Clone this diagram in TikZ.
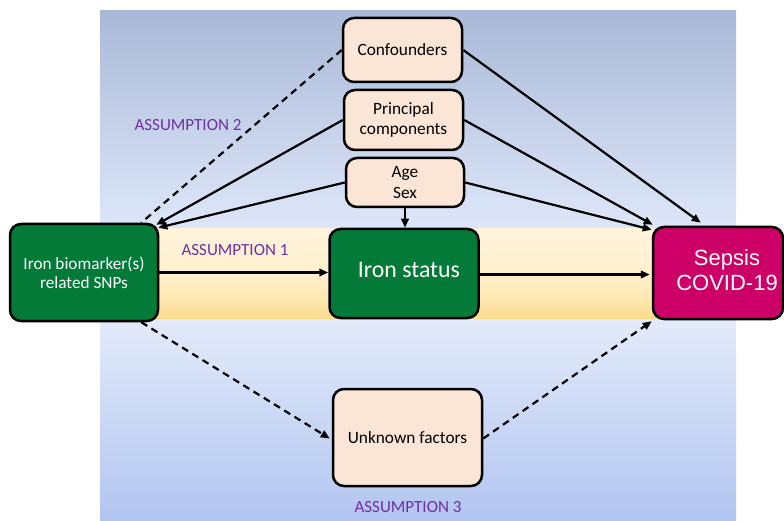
\documentclass[tikz,border=0pt]{standalone}
\usepackage{fontspec}
\setmainfont{Carlito}
\newfontfamily\arialfont{Liberation Sans}
\usetikzlibrary{arrows.meta,calc}

\definecolor{panelTop}{HTML}{A8B8D6}
\definecolor{panelUp}{HTML}{C3CFE8}
\definecolor{panelLight}{HTML}{DDE6F8}
\definecolor{panelMid}{HTML}{E4EBFA}
\definecolor{panelLow}{HTML}{CAD8F5}
\definecolor{panelBot}{HTML}{B2C5F0}
\definecolor{bandTop}{HTML}{FFF3DC}
\definecolor{bandMid}{HTML}{FFF0CD}
\definecolor{bandLow}{HTML}{FDE7AF}
\definecolor{bandBot}{HTML}{FADB8A}
\definecolor{peach}{HTML}{FBE5D6}
\definecolor{ironGreen}{HTML}{037A38}
\definecolor{sepsisPink}{HTML}{CC0066}
\definecolor{assumPurple}{HTML}{7030A0}

% vertical shadings; TikZ fits the 25bp--75bp part to the filled area
\pgfdeclareverticalshading{panelshade}{100bp}{%
  color(0bp)=(panelBot); color(25bp)=(panelBot); color(35bp)=(panelLow);
  color(45bp)=(panelMid); color(54bp)=(panelLight); color(65bp)=(panelUp);
  color(75bp)=(panelTop); color(100bp)=(panelTop)}
\pgfdeclareverticalshading{bandshade}{100bp}{%
  color(0bp)=(bandBot); color(25bp)=(bandBot); color(35bp)=(bandLow);
  color(50bp)=(bandMid); color(75bp)=(bandTop); color(100bp)=(bandTop)}

\tikzset{
  box/.style={draw=black, line width=2.5pt, rounded corners=11pt, inner sep=0pt, align=center},
  factor/.style={box, fill=peach, text=black, font=\fontsize{17.3}{20.5}\selectfont},
  greenbox/.style={box, fill=ironGreen, text=white},
  assum/.style={text=assumPurple, font=\fontsize{17}{20}\selectfont, inner sep=0pt},
  link/.style={line width=2.2pt, -{Triangle[length=9pt,width=7.5pt]}},
  dlink/.style={link, dash pattern=on 7pt off 5pt},
}

\begin{document}
\begin{tikzpicture}[x=1pt,y=-1pt]
\useasboundingbox (0,0) rectangle (784,521);

% background panel and the yellow band
\shade[shading=panelshade] (100,11) rectangle (736,521);
\shade[shading=bandshade] (100,229) rectangle (736,318);

% nodes
\node[greenbox, minimum width=148pt, minimum height=97pt,
      font=\fontsize{17.2}{19}\selectfont] (snp) at (84,272.5)
  {Iron biomarker(s)\\related SNPs};
\node[greenbox, minimum width=149pt, minimum height=89pt] (iron) at (404,273.5) {};
\node[text=white, font=\fontsize{23.8}{26}\selectfont, inner sep=0pt] (irontxt)
  at (409,270) {Iron status};
\node[box, fill=sepsisPink, minimum width=130pt, minimum height=92pt] (sep) at (718,273) {};
\node[text=white, font=\arialfont\fontsize{22}{25}\selectfont, align=center, inner sep=0pt]
  (septxt) at (727,270) {Sepsis\\COVID-19};

\node[factor, minimum width=119pt, minimum height=64pt] (conf) at (402.5,50) {Confounders};
\node[factor, minimum width=119pt, minimum height=60pt] (pc) at (403.5,120)
  {Principal\\components};
\node[factor, minimum width=118pt, minimum height=49pt] (age) at (405,182.5)
  {Age\\Sex};
\node[factor, minimum width=149pt, minimum height=97pt] (unk) at (407.5,437.5)
  {Unknown factors};

% assumption labels
\node[assum] (a1) at (235,250) {ASSUMPTION 1};
\node[assum] (a2) at (188,125) {ASSUMPTION 2};
\node[assum] (a3) at (408,507) {ASSUMPTION 3};

% connectors
\draw[line width=2.2pt, dash pattern=on 7pt off 5pt]
  (conf.west) -- ($(snp.north east)+(-18,0)$);
\draw[link] (pc.west) -- ($(snp.north east)+(-3,2)$);
\draw[link] (age.west) -- ($(snp.north east)+(-1,5)$);

\draw[link] (conf.east) -- ($(sep.north west)+(49,-3)$);
\draw[link] (pc.east) -- ($(sep.north west)+(1,-1)$);
\draw[link] (age.east) -- ($(sep.north west)+(0,4)$);

\draw[link] (age.south) -- (age.south |- iron.north);
\draw[link] (snp.east) -- (snp.east -| iron.west);
\draw[link] ($(iron.east)+(0,1)$) -- ($(iron.east -| sep.west)+(-2,1)$);

\draw[dlink] ($(snp.south east)+(-18,0)$) -- ($(unk.west)+(-2,1)$);
\draw[dlink] ($(unk.east)+(0,1)$) -- ($(sep.south west)+(0,1)$);
\end{tikzpicture}
\end{document}
